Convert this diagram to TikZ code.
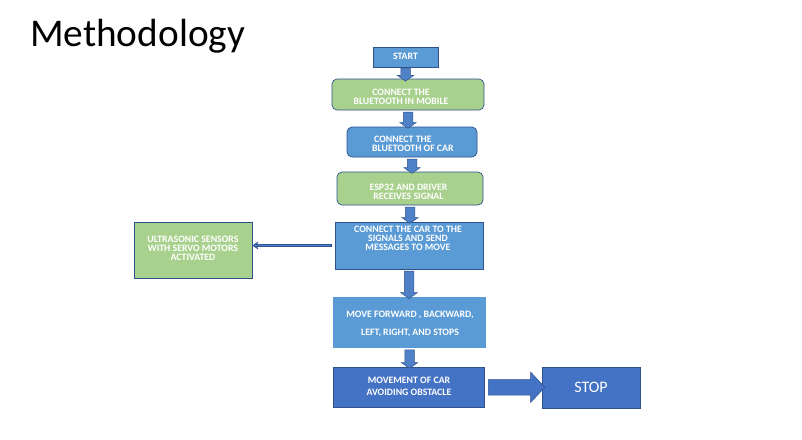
\documentclass[tikz,border=0pt]{standalone}
\usepackage{fontspec}
\setmainfont{Carlito}
\usetikzlibrary{shapes.arrows,calc,arrows.meta}
\definecolor{boxblue}{HTML}{5B9BD5}
\definecolor{boxgreen}{HTML}{A9D18E}
\definecolor{darkblue}{HTML}{4472C4}
\definecolor{edgecol}{HTML}{2F528F}
\definecolor{arrowblue}{HTML}{4F81C7}
\tikzset{
  box/.style={draw=edgecol, line width=0.7pt, inner sep=0pt, text=white},
  rbox/.style={box, rounded corners=5pt},
  btext/.style={text=white, font=\bfseries\fontsize{9.8}{9}\selectfont, align=center, inner sep=0pt},
  varrow/.style={single arrow, shape border rotate=270, draw=edgecol, line width=0.5pt, fill=arrowblue,
    inner sep=4.5pt, single arrow head extend=3.5pt, single arrow tip angle=110, anchor=center},
  harrow/.style={single arrow, draw=edgecol, line width=0.5pt, fill=darkblue,
    inner sep=7.5pt, single arrow head extend=7.5pt, single arrow tip angle=94, anchor=center},
}
\newcommand\vconn[2]{\path let \p1=(#1.south), \p2=(#1.south |- #2.north) in
  node[varrow, minimum height={\y1-\y2}] at ($(\p1)!.5!(\p2)$) {};}
\begin{document}
\begin{tikzpicture}[x=1pt,y=-1pt]
\useasboundingbox (0,0) rectangle (802,439);
\node[anchor=base west, inner sep=0pt, font=\fontsize{39.3}{40}\selectfont] (title) at (30,46) {Methodology};

\node[box, fill=boxblue, minimum width=65pt, minimum height=20pt] (start) at (405.5,57) {};
\node[btext] (tstart) at (405.5,56.5) {START};
\node[rbox, fill=boxgreen, minimum width=152pt, minimum height=31pt] (b1) at (408,94.5) {};
\node[btext] (t1) at (401,97) {CONNECT THE\\BLUETOOTH IN MOBILE};
\node[rbox, fill=boxblue, minimum width=130pt, minimum height=30pt] (b2) at (412,142) {};
\node[btext, align=left, anchor=west] (t2) at (372,144) {\hspace{2pt}CONNECT THE\\BLUETOOTH OF CAR};
\node[rbox, fill=boxgreen, minimum width=146pt, minimum height=33pt] (b3) at (410,188.5) {};
\node[btext] (t3) at (408.5,192) {ESP32 AND DRIVER\\RECEIVES SIGNAL};
\node[box, fill=boxblue, minimum width=148pt, minimum height=47pt] (b4) at (409,245.5) {};
\node[btext] (t4) at (408,238) {CONNECT THE CAR TO THE\\SIGNALS AND SEND\\MESSAGES TO MOVE};
\node[box, fill=boxgreen, minimum width=118pt, minimum height=56pt] (us) at (193,250) {};
\node[btext] (tus) at (193,248.5) {ULTRASONIC SENSORS\\WITH SERVO MOTORS\\ACTIVATED};
\node[inner sep=0pt, fill=boxblue, minimum width=153pt, minimum height=51pt] (b5) at (409.5,322.5) {};
\node[btext, font=\bfseries\fontsize{9.8}{18}\selectfont] (t5) at (410,324) {MOVE FORWARD , BACKWARD,\\LEFT, RIGHT, AND STOPS};
\node[box, fill=darkblue, minimum width=151pt, minimum height=40pt] (b6) at (408.5,387) {};
\node[btext, font=\bfseries\fontsize{9.8}{12}\selectfont] (t6) at (409,386) {MOVEMENT OF CAR\\AVOIDING OBSTACLE};
\node[box, fill=darkblue, minimum width=98pt, minimum height=41pt] (stop) at (591,387.5) {};
\node[text=white, font=\fontsize{16}{16}\selectfont, inner sep=0pt] (tstop) at (591,387) {STOP};

\vconn{start}{b1}
\vconn{b1}{b2}
\vconn{b2}{b3}
\vconn{b3}{b4}
\vconn{b4}{b5}
\vconn{b5}{b6}
\path let \p1=(b6.east), \p2=(stop.west) in
  node[harrow, minimum height={\x2-\x1-1pt}] at ($(\p1)!.5!(\p2)$) {};

\draw[edgecol, line width=3pt, shorten <=3pt, -{Stealth[length=6pt,width=8pt]}] (b4.west) -- (b4.west -| us.east);
\draw[arrowblue, line width=1.4pt, shorten <=3.6pt, shorten >=2pt] (b4.west) -- (b4.west -| us.east);
\end{tikzpicture}
\end{document}
